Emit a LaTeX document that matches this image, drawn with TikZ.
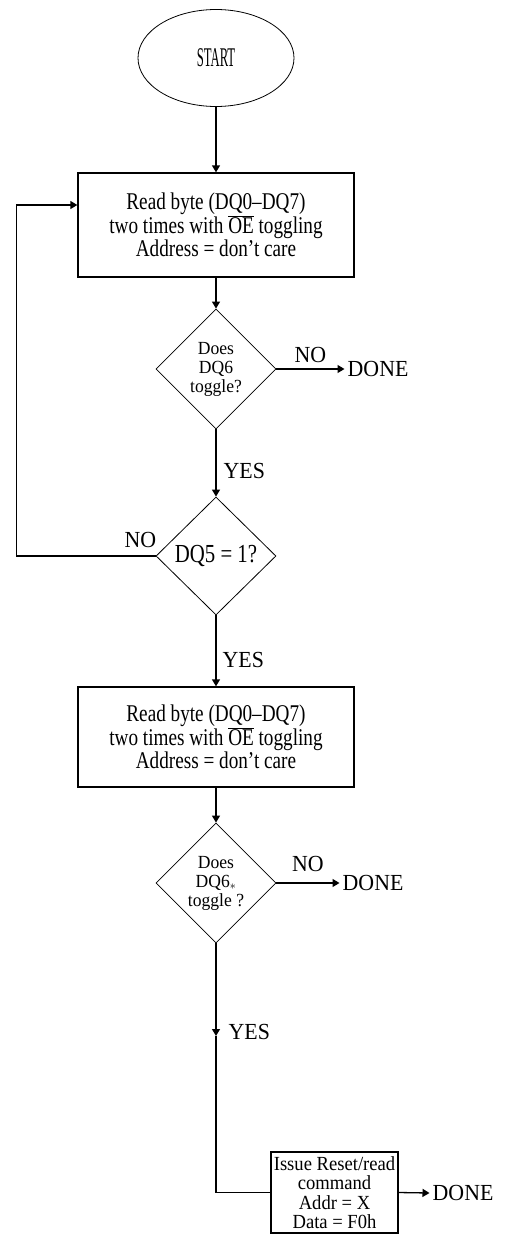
\documentclass[tikz,border=0pt]{standalone}
\usepackage{fontspec}
\setmainfont{Liberation Serif}
\newfontfamily\condfont{Liberation Serif}[FakeStretch=0.8]
\newfontfamily\resetfont{Liberation Serif}[FakeStretch=0.93]
\newfontfamily\labfont{Liberation Serif}[FakeStretch=0.95]
\newfontfamily\startfont{Liberation Serif}[FakeStretch=0.47]
\usetikzlibrary{shapes.geometric,arrows.meta}

\tikzset{
  procbox/.style={draw, line width=1.3pt, inner sep=0pt, align=center,
    font=\condfont\fontsize{24}{21.7}\selectfont},
  decide/.style={draw, diamond, line width=0.8pt, inner sep=0pt, align=center,
    minimum width=120pt, minimum height=120pt},
  lbl/.style={font=\labfont\fontsize{23}{23}\selectfont, inner sep=0pt},
  donelbl/.style={lbl, anchor=west, inner xsep=3pt},
  flow/.style={line width=1.3pt, -{Triangle[length=7pt,width=8pt]}},
}

\begin{document}
\begin{tikzpicture}[x=1pt, y=-1pt]
  \useasboundingbox (0,0) rectangle (508,1234);

  % blocks
  \node[ellipse, draw, line width=0.8pt, minimum width=156pt, minimum height=97pt,
    font=\startfont\fontsize{27}{27}\selectfont] (start) at (216,58) {START};
  \node[procbox, minimum width=276pt, minimum height=104pt] (read1) at (216,225)
    {Read byte (DQ0–DQ7)\\two times with $\overline{\hbox{OE}}$ toggling\\Address = don’t care};
  \node[decide, font=\labfont\fontsize{18.5}{19}\selectfont] (tog1) at (216,369)
    {Does\\DQ6\\toggle?};
  \node[decide, minimum height=118pt, font=\condfont\fontsize{26}{26}\selectfont] (dq5) at (216,556)
    {DQ5 = 1?};
  \node[procbox, minimum width=276pt, minimum height=100pt] (read2) at (216,737)
    {Read byte (DQ0–DQ7)\\two times with $\overline{\hbox{OE}}$ toggling\\Address = don’t care};
  \node[decide, font=\labfont\fontsize{18.5}{19}\selectfont] (tog2) at (216,883)
    {Does\\DQ6$_*$\\toggle ?};
  \coordinate (yes3) at (216,1036);
  \node[procbox, minimum width=127pt, minimum height=81pt,
    font=\resetfont\fontsize{20}{19.5}\selectfont] (reset) at (334.5,1192.5)
    {Issue Reset/read\\command\\Addr = X\\Data = F0h};

  \node[donelbl] (done1) at (344.5,369) {DONE};
  \node[donelbl] (done2) at (339.5,883) {DONE};
  \node[donelbl] (done3) at (429.5,1193) {DONE};

  % connectors
  \draw[flow] (start) -- (read1);
  \draw[flow] (read1) -- (tog1);
  \draw[flow] (tog1.east) -- node[lbl, above=6pt] {NO} (done1.west);
  \draw[flow] (tog1.south) -- node[lbl, right=7pt, pos=0.62] {YES} (dq5.north);
  \draw[flow] (dq5.west) -- node[lbl, pos=0.11, above=8pt] {NO} ++(-139,0)
    |- ([yshift=20pt]read1.west);
  \draw[flow] (dq5.south) -- node[lbl, right=6pt, pos=0.625] {YES} (read2.north);
  \draw[flow] (read2) -- (tog2);
  \draw[flow] (tog2.east) -- node[lbl, above=11pt] {NO} (done2.west);
  \draw[flow] (tog2.south) -- node[lbl, right=12pt, pos=0.96] {YES} (yes3);
  \draw[line width=1.3pt] (yes3) |- (reset.west);
  \draw[flow] (reset.east) -- (done3.west);
\end{tikzpicture}
\end{document}
